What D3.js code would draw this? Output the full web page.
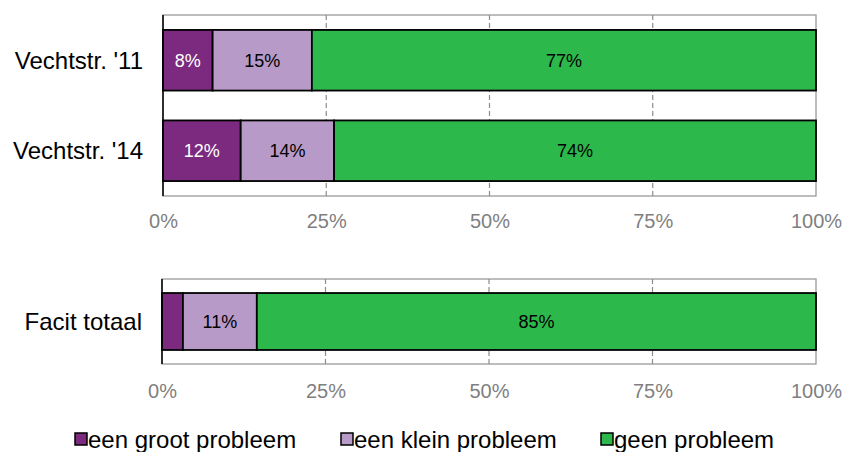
<!DOCTYPE html>
<html><head><meta charset="utf-8">
<script src="https://cdn.jsdelivr.net/npm/d3@7"></script>
<style>body{margin:0;background:#fff}svg{display:block;font-family:"Liberation Sans",Arial,sans-serif}</style>
</head><body>
<svg id="c" width="845" height="452"></svg>
<script>
const seriesNames = ["een groot probleem","een klein probleem","geen probleem"];
const colors = ["#7B2A7F","#B89AC8","#2DB84B"];
const labelColors = ["#ffffff","#000000","#000000"];
const topCategories = ["Vechtstr. '11","Vechtstr. '14"];
const topGroot = [7.6, 11.9];
const topKlein = [15.2, 14.3];
const topGeen = [77.2, 73.8];
const topLabels = [["8%","15%","77%"],["12%","14%","74%"]];
const botCategories = ["Facit totaal"];
const botGroot = [3.2];
const botKlein = [11.3];
const botGeen = [85.5];
const botLabels = [["","11%","85%"]];
const ticks = [0,25,50,75,100];

const svg = d3.select("#c");

function panel(cfg){
  const {x0,x1,y0,y1,cats,vals,labels,tickY} = cfg;
  const g = svg.append("g");
  const x = d3.scaleLinear().domain([0,100]).range([x0,x1]);
  const y = d3.scaleBand().domain(cats).range([y0,y1]).paddingInner(0.33).paddingOuter(0.165);
  g.append("rect").attr("x",x0).attr("y",y0).attr("width",x1-x0).attr("height",y1-y0)
    .attr("fill","none").attr("stroke","#9a9a9a").attr("stroke-width",1.3);
  g.selectAll(".grid").data([25,50,75]).join("line")
    .attr("x1",d=>x(d)).attr("x2",d=>x(d)).attr("y1",y0).attr("y2",y1)
    .attr("stroke","#8c8c8c").attr("stroke-width",1.2).attr("stroke-dasharray","5,3");
  cats.forEach((c,i)=>{
    let acc=0;
    vals.forEach((s,k)=>{
      const v=s[i];
      g.append("rect").attr("x",x(acc)).attr("y",y(c)).attr("width",x(acc+v)-x(acc)).attr("height",y.bandwidth())
        .attr("fill",colors[k]).attr("stroke","#000").attr("stroke-width",1.8);
      if(labels[i][k]) g.append("text").attr("x",(x(acc)+x(acc+v))/2).attr("y",y(c)+y.bandwidth()/2+6.5)
        .attr("text-anchor","middle").attr("font-size",18).attr("fill",labelColors[k]).text(labels[i][k]);
      acc+=v;
    });
    g.append("text").attr("x",x0-20).attr("y",y(c)+y.bandwidth()/2+8.5).attr("text-anchor","end")
      .attr("font-size",24).attr("fill","#000").text(c);
  });
  g.append("line").attr("x1",x0).attr("x2",x0).attr("y1",y0).attr("y2",y1).attr("stroke","#000").attr("stroke-width",1.5);
  const ax = d3.axisBottom(x).tickValues(ticks).tickFormat(d=>d+"%").tickSize(0).tickPadding(0);
  const ag = g.append("g").attr("transform",`translate(0,${tickY})`).call(ax);
  ag.select(".domain").remove();
  ag.selectAll("text").attr("font-size",20).attr("fill","#7f7f7f").attr("dy",0)
    .attr("font-family","'Liberation Sans',Arial,sans-serif");
}

panel({x0:163,x1:816,y0:15,y1:196,cats:topCategories,vals:[topGroot,topKlein,topGeen],labels:topLabels,tickY:228});
panel({x0:162,x1:816,y0:279,y1:364,cats:botCategories,vals:[botGroot,botKlein,botGeen],labels:botLabels,tickY:398});

const legX = [75,341,601];
const lg = svg.append("g");
seriesNames.forEach((n,i)=>{
  lg.append("rect").attr("x",legX[i]).attr("y",433).attr("width",12).attr("height",12)
    .attr("fill",colors[i]).attr("stroke","#000").attr("stroke-width",1.5);
  lg.append("text").attr("x",legX[i]+13).attr("y",448).attr("font-size",24).attr("fill","#000").text(n);
});
</script>
</body></html>
